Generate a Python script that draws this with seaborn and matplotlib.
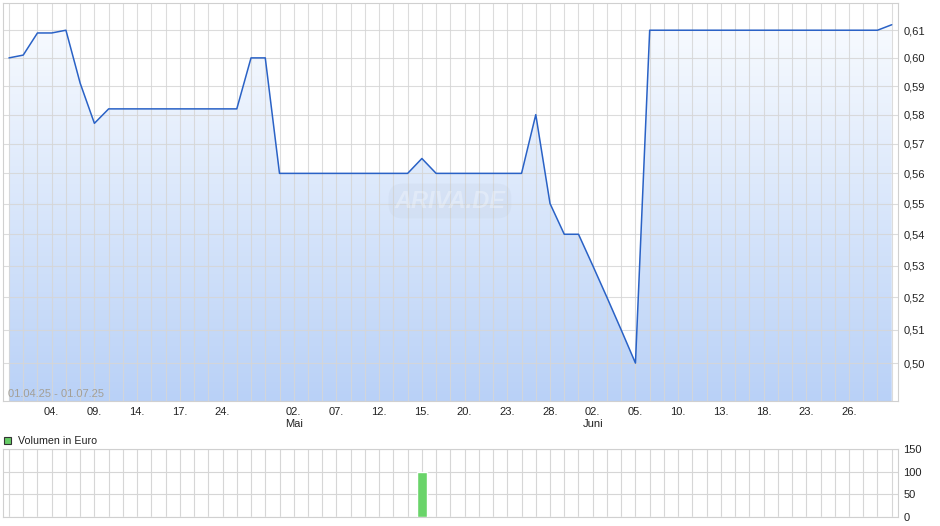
import numpy as np
import pandas as pd
import matplotlib
matplotlib.use("Agg")
import matplotlib.pyplot as plt
import seaborn as sns
from matplotlib.colors import LinearSegmentedColormap
from matplotlib.patches import Rectangle
from matplotlib.ticker import FixedLocator, NullLocator

# ---------------- data ----------------
dates = [
    "01.04.", "02.04.", "03.04.", "04.04.", "07.04.", "08.04.", "09.04.", "10.04.", "11.04.", "14.04.",
    "15.04.", "16.04.", "17.04.", "22.04.", "23.04.", "24.04.", "25.04.", "28.04.", "29.04.", "30.04.",
    "02.05.", "05.05.", "06.05.", "07.05.", "08.05.", "09.05.", "12.05.", "13.05.", "14.05.", "15.05.",
    "16.05.", "19.05.", "20.05.", "21.05.", "22.05.", "23.05.", "26.05.", "27.05.", "28.05.", "29.05.",
    "30.05.", "02.06.", "03.06.", "04.06.", "05.06.", "06.06.", "09.06.", "10.06.", "11.06.", "12.06.",
    "13.06.", "16.06.", "17.06.", "18.06.", "19.06.", "20.06.", "23.06.", "24.06.", "25.06.", "26.06.",
    "27.06.", "30.06.", "01.07.",
]
prices = [
    0.600, 0.601, 0.609, 0.609, 0.610, 0.591, 0.577,
    0.582, 0.582, 0.582, 0.582, 0.582, 0.582, 0.582, 0.582, 0.582, 0.582,
    0.600, 0.600,
    0.560, 0.560, 0.560, 0.560, 0.560, 0.560, 0.560, 0.560, 0.560, 0.560,
    0.565,
    0.560, 0.560, 0.560, 0.560, 0.560, 0.560, 0.560,
    0.580, 0.550, 0.540, 0.540, 0.530, 0.520, 0.510, 0.500,
    0.610, 0.610, 0.610, 0.610, 0.610, 0.610, 0.610, 0.610, 0.610, 0.610,
    0.610, 0.610, 0.610, 0.610, 0.610, 0.610, 0.610,
    0.612,
]
volumes = [0] * 29 + [100] + [0] * 33

tick_dates = ["04.04.", "09.04.", "14.04.", "17.04.", "24.04.", "02.05.", "07.05.", "12.05.",
              "15.05.", "20.05.", "23.05.", "28.05.", "02.06.", "05.06.", "10.06.", "13.06.",
              "18.06.", "23.06.", "26.06."]
tick_texts = ["04.", "09.", "14.", "17.", "24.", "02.\nMai", "07.", "12.",
              "15.", "20.", "23.", "28.", "02.\nJuni", "05.", "10.", "13.",
              "18.", "23.", "26."]
price_ticks = [0.50, 0.51, 0.52, 0.53, 0.54, 0.55, 0.56, 0.57, 0.58, 0.59, 0.60, 0.61]
volume_ticks = [0, 50, 100, 150]
range_text = "01.04.25 - 01.07.25"
legend_text = "Volumen in Euro"

df = pd.DataFrame({"idx": np.arange(len(dates)), "date": dates,
                   "price": prices, "volume": volumes})

# ---------------- style ----------------
sns.set_style("white")
plt.rcParams["font.family"] = ["Liberation Sans", "DejaVu Sans"]
GRID = "#d6d6d6"
SPINE = "#d0d0d0"
LINE = "#2a62c6"
BAR = "#6ad46a"

fig = plt.figure(figsize=(9.4, 5.26), dpi=100)
ax = fig.add_axes([0.00319, 0.23764, 0.95213, 0.75665])
axv = fig.add_axes([0.00319, 0.01806, 0.95213, 0.12738])

YMIN, YMAX = 0.4888, 0.620
XMIN, XMAX = -0.42, 62.44

# ---------------- price panel ----------------
ax.set_yscale("log")
poly = ax.fill_between(df["idx"], df["price"], YMIN, facecolor="none", edgecolor="none")
grad = np.linspace(0, 1, 256).reshape(-1, 1)
cmap = LinearSegmentedColormap.from_list("g", ["#b9d1f7", "#fbfdff"])
im = ax.imshow(grad, extent=[0, 1, 0, 1], transform=ax.transAxes, aspect="auto",
               cmap=cmap, origin="lower", zorder=1, interpolation="bilinear")
im.set_clip_path(poly.get_paths()[0], ax.transData)

sns.lineplot(data=df, x="idx", y="price", ax=ax, color=LINE, lw=1.1, zorder=3)

ax.set_xlim(XMIN, XMAX)
ax.set_ylim(YMIN, YMAX)
ax.set_xlabel("")
ax.set_ylabel("")

ax.yaxis.tick_right()
ax.yaxis.set_major_locator(FixedLocator(price_ticks))
ax.yaxis.set_minor_locator(NullLocator())
ax.set_yticklabels([f"{v:.2f}".replace(".", ",") for v in price_ticks])

xlabels = [""] * len(dates)
for d, t in zip(tick_dates, tick_texts):
    xlabels[dates.index(d)] = t
ax.set_xticks(df["idx"])
ax.set_xticklabels(xlabels, linespacing=1.25)
ax.xaxis.set_minor_locator(NullLocator())

ax.tick_params(axis="x", length=3, color=SPINE, pad=1, labelsize=8, labelcolor="#222222")
ax.tick_params(axis="y", length=0, pad=4, labelsize=8, labelcolor="#222222")
ax.set_axisbelow("line")
ax.grid(True, color=GRID, lw=0.8, alpha=0.85)
for s in ax.spines.values():
    s.set_color(SPINE)
    s.set_linewidth(0.8)

ax.text(0.0056, 0.004, range_text, transform=ax.transAxes, fontsize=8,
        color="#a39f97", ha="left", va="bottom", zorder=4)
ax.text(0.4994, 0.5025, "ARIVA.DE", transform=ax.transAxes, fontsize=17,
        fontweight="bold", style="italic", color="white", alpha=0.3,
        ha="center", va="center", zorder=2.6,
        bbox=dict(boxstyle="round,pad=0.25,rounding_size=0.6", fc="#9aa6b8",
                  ec="none", alpha=0.08))

# ---------------- volume panel ----------------
sns.barplot(data=df, x="idx", y="volume", ax=axv, native_scale=True, color=BAR,
            saturation=1, width=0.7, errorbar=None, zorder=3)
axv.set_xlim(XMIN, XMAX)
axv.set_ylim(0, 150)
axv.set_xlabel("")
axv.set_ylabel("")
axv.yaxis.tick_right()
axv.set_yticks(volume_ticks)
axv.set_yticklabels([str(v) for v in volume_ticks])
axv.set_xticks(df["idx"])
axv.set_xticklabels([""] * len(dates))
axv.tick_params(axis="x", length=0)
axv.tick_params(axis="y", length=0, pad=4, labelsize=8, labelcolor="#222222")
axv.set_axisbelow(True)
axv.grid(True, color=GRID, lw=0.8)
for s in axv.spines.values():
    s.set_color(SPINE)
    s.set_linewidth(0.8)

# legend
fig.add_artist(Rectangle((3.5 / 940, 1 - 444 / 526), 7.5 / 940, 7.5 / 526,
                         transform=fig.transFigure, facecolor="#66cc66",
                         edgecolor="#333333", lw=0.8))
fig.text(18 / 940, 1 - 440.5 / 526, legend_text, fontsize=7.7, color="#222222",
         ha="left", va="center")

fig.savefig("out.png", dpi=100)
